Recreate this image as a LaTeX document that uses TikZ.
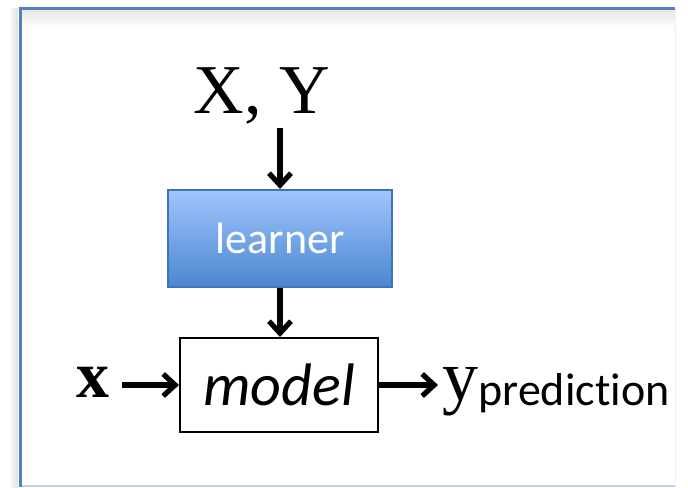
\documentclass[tikz,border=0pt]{standalone}
\usepackage{fontspec}
\setmainfont{Liberation Serif}
\newfontfamily\calibri[Ligatures=NoCommon]{Carlito}
\usetikzlibrary{arrows.meta}

\definecolor{framebl}{RGB}{79,129,189}
\definecolor{learntop}{RGB}{160,198,252}
\definecolor{learnbot}{RGB}{74,134,208}
\definecolor{learnedge}{RGB}{66,114,184}

\tikzset{
  flow/.style={-{Straight Barb[length=6pt,width=11pt]}, line width=2.6pt},
  learnbox/.style={draw=learnedge, line width=1pt, top color=learntop, bottom color=learnbot,
    minimum width=112pt, minimum height=48.5pt, text=white,
    font=\calibri\fontsize{22}{22}\selectfont},
  modelbox/.style={draw, line width=1pt, minimum width=99pt, minimum height=47pt,
    font=\calibri\itshape\fontsize{30}{30}\selectfont},
}

\begin{document}
\begin{tikzpicture}[x=0.5pt,y=-0.5pt]
  \useasboundingbox (0,0) rectangle (688,487);
  % slide frame with its soft shadow
  \shade[left color=white, right color=black!12] (8,8) rectangle (18,487);
  \shade[top color=black!10, bottom color=white] (21,9) rectangle (675,28);
  \draw[framebl!35, line width=1pt] (20,486) -- (675,486);
  \draw[black!6, line width=0.5pt] (675,9) -- (675,487);
  \draw[framebl, line width=1.5pt] (20,487) -- (20,8) -- (675,8);

  \node[font=\fontsize{35}{35}\selectfont, inner sep=0pt, anchor=base] (XY) at (262,113) {X, Y};
  \node[learnbox] (learner) at (280,238.5) {learner};
  \node[modelbox] (model) at (279,385) {model};
  \node[font=\bfseries\fontsize{33}{33}\selectfont, anchor=base, inner sep=6pt] (xin) at (93,397) {x};
  \node[anchor=base west, inner sep=2pt] (ypred) at (438,400)
    {\fontsize{36}{36}\selectfont y\raisebox{-2.5pt}{\calibri\fontsize{23}{23}\selectfont prediction}};

  \path[flow]
    (XY.south -| learner.north) edge[shorten <=2pt] (learner.north)
    (learner.south) edge (learner.south |- model.north)
    (xin.east |- model.west) edge (model.west)
    (model.east) edge (model.east -| ypred.west);
\end{tikzpicture}
\end{document}
